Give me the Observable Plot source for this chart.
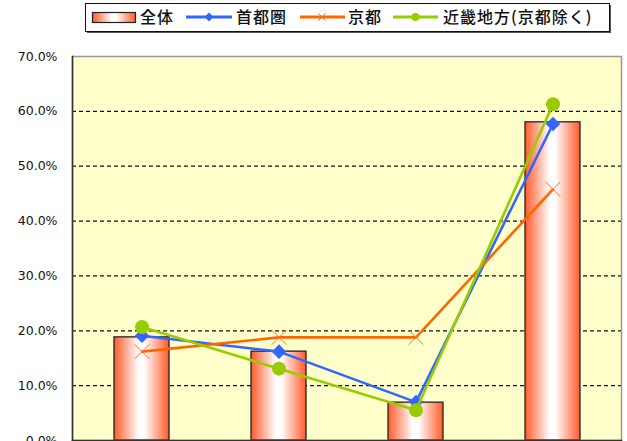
<!DOCTYPE html>
<html><head><meta charset="utf-8">
<script src="https://cdn.jsdelivr.net/npm/d3@7"></script>
<script src="https://cdn.jsdelivr.net/npm/@observablehq/plot@0.6"></script>
<style>
body{margin:0;background:#fff;width:627px;height:441px;overflow:hidden;font-family:"Noto Sans CJK JP",sans-serif;}
#legend{position:relative;width:627px;height:40px;}
#chart svg{display:block;overflow:visible;}
</style></head>
<body>
<div id="legend"></div>
<div id="chart"></div>
<script>
// ---- data ----
const categories = ["区分1", "区分2", "区分3", "区分4"];
const seriesNames = ["全体", "首都圏", "京都", "近畿地方(京都除く)"];
const zentai   = [18.8, 16.2, 6.9, 58.0];
const shutoken = [19.1, 16.2, 7.0, 57.7];
const kyoto    = [16.2, 18.8, 18.8, 45.8];
const kinki    = [20.7, 13.1, 5.5, 61.3];
const yTicks   = [0, 10, 20, 30, 40, 50, 60, 70];
const gridTicks = [10, 20, 30, 40, 50, 60];

const colors = {blue: "#3366FF", orange: "#FF6600", green: "#99CC00"};

const barData = categories.map((c, i) => ({cat: c, v: zentai[i]}));
const mk = arr => categories.map((c, i) => ({cat: c, v: arr[i]}));
const blueData = mk(shutoken), orangeData = mk(kyoto), greenData = mk(kinki);

function addGrad(svg, id) {
  const defs = svg.insert("defs", ":first-child");
  const g = defs.append("linearGradient").attr("id", id).attr("x1", "0").attr("x2", "1").attr("y1", "0").attr("y2", "0");
  g.append("stop").attr("offset", "0").attr("stop-color", "#FF5A2A");
  g.append("stop").attr("offset", "0.45").attr("stop-color", "#FFFFFF");
  g.append("stop").attr("offset", "0.55").attr("stop-color", "#FFFFFF");
  g.append("stop").attr("offset", "1").attr("stop-color", "#FF5A2A");
}

const chart = Plot.plot({
  width: 627, height: 410,
  marginLeft: 72, marginRight: 6, marginTop: 16, marginBottom: 10,
  style: {background: "transparent", fontFamily: "'DejaVu Sans', sans-serif", fontSize: "11px", color: "#000"},
  x: {type: "band", domain: categories, padding: 0, axis: null},
  y: {domain: [0, 70], axis: null},
  marks: [
    Plot.frame({fill: "#FFFFCC", stroke: "none"}),
    Plot.ruleY(gridTicks, {y: d => d, stroke: "#111", strokeDasharray: "4,3", strokeWidth: 1.3}),
    Plot.barY(barData, {x: "cat", y: "v", fill: "url(#barGrad)", stroke: "#222", strokeWidth: 1.3, insetLeft: 41, insetRight: 41}),
    Plot.frame({stroke: "#999", strokeWidth: 1.5}),
    Plot.frame({anchor: "left", stroke: "#333", strokeWidth: 1.5}),
    Plot.frame({anchor: "bottom", stroke: "#333", strokeWidth: 1.5}),
    Plot.line(blueData, {x: "cat", y: "v", stroke: colors.blue, strokeWidth: 2.6}),
    Plot.dot(blueData, {x: "cat", y: "v", symbol: "square", rotate: 45, r: 5.8, fill: colors.blue, stroke: "none"}),
    Plot.line(orangeData, {x: "cat", y: "v", stroke: colors.orange, strokeWidth: 2.6}),
    Plot.dot(orangeData, {x: "cat", y: "v", symbol: "times", r: 6.7, stroke: "#FF7033", strokeWidth: 1}),
    Plot.line(greenData, {x: "cat", y: "v", stroke: colors.green, strokeWidth: 2.6}),
    Plot.dot(greenData, {x: "cat", y: "v", r: 7, fill: colors.green, stroke: "none"}),
    Plot.axisY({ticks: yTicks, tickFormat: d => d.toFixed(1) + "%", tickSize: 0, tickPadding: 15, fontSize: 12.5, fill: "#111", label: null})
  ]
});
addGrad(d3.select(chart), "barGrad");
document.getElementById("chart").appendChild(chart);

// ---- legend ----
const L = d3.select("#legend").append("svg").attr("width", 627).attr("height", 40).style("position", "absolute").style("left", 0).style("top", 0);
addGrad(L, "legGrad");
L.append("rect").attr("x", 87).attr("y", 5).attr("width", 524).attr("height", 28).attr("fill", "#555");
L.append("rect").attr("x", 85.5).attr("y", 3.5).attr("width", 524).attr("height", 28).attr("fill", "#fff").attr("stroke", "#111").attr("stroke-width", 1);
L.append("rect").attr("x", 92.5).attr("y", 12.5).attr("width", 43).attr("height", 10).attr("fill", "url(#legGrad)").attr("stroke", "#222").attr("stroke-width", 1.2);
const cy = 17;
L.append("line").attr("x1", 186).attr("x2", 232).attr("y1", cy).attr("y2", cy).attr("stroke", colors.blue).attr("stroke-width", 3);
L.append("path").attr("d", `M209,${cy-4.5}L213.5,${cy}L209,${cy+4.5}L204.5,${cy}Z`).attr("fill", colors.blue);
L.append("line").attr("x1", 300).attr("x2", 345).attr("y1", cy).attr("y2", cy).attr("stroke", colors.orange).attr("stroke-width", 3);
L.append("path").attr("d", `M318.5,${cy-3.5}L325.5,${cy+3.5}M318.5,${cy+3.5}L325.5,${cy-3.5}`).attr("stroke", colors.orange).attr("stroke-width", 1);
L.append("line").attr("x1", 393).attr("x2", 438).attr("y1", cy).attr("y2", cy).attr("stroke", colors.green).attr("stroke-width", 3);
L.append("circle").attr("cx", 415.5).attr("cy", cy).attr("r", 4).attr("fill", colors.green);
const textX = [140, 236, 348, 443];
seriesNames.forEach((s, i) => {
  L.append("text").attr("x", textX[i]).attr("y", 23).attr("font-size", 16).attr("letter-spacing", 1)
    .attr("font-family", "'Noto Sans CJK JP', sans-serif").attr("font-weight", 500).attr("fill", "#111").text(s);
});
</script>
</body></html>
